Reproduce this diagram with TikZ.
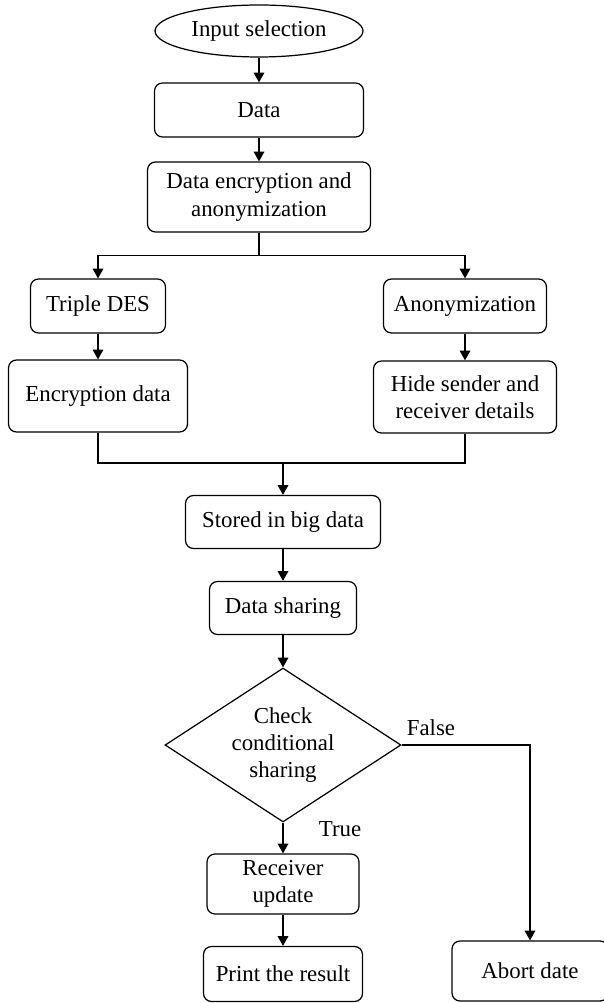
\documentclass[tikz,border=0pt]{standalone}
\usepackage{fontspec}
\setmainfont{Liberation Serif}
\usetikzlibrary{shapes.geometric,arrows.meta}

\begin{document}
\begin{tikzpicture}[x=0.02cm,y=-0.02cm,font=\fontsize{13}{15.5}\selectfont,line width=0.7pt,
  box/.style={draw,rounded corners=4.5pt,align=center,inner sep=0pt},
  arr/.style={-{Triangle[length=5.5pt,width=6pt]}}]
\clip (0,0) rectangle (604,1003);
\node[draw,ellipse,minimum width=4.16cm,minimum height=1.04cm,inner sep=0pt] (inp) at (259,31) {Input selection};
\node[box,minimum width=4.18cm,minimum height=1.08cm] (data) at (259,110) {Data};
\node[box,minimum width=4.46cm,minimum height=1.40cm] (enc) at (259,197) {Data encryption and\\anonymization};
\node[box,minimum width=2.70cm,minimum height=1.08cm] (tdes) at (98,306) {Triple DES};
\node[box,minimum width=3.26cm,minimum height=1.08cm] (anon) at (465,306) {Anonymization};
\node[box,minimum width=3.58cm,minimum height=1.44cm] (encd) at (98,396) {Encryption data};
\node[box,minimum width=3.66cm,minimum height=1.44cm] (hide) at (465,397) {Hide sender and\\receiver details};
\coordinate (join) at (283,463);
\node[box,minimum width=3.90cm,minimum height=1.06cm] (store) at (283,522) {Stored in big data};
\node[box,minimum width=2.94cm,minimum height=1.06cm] (share) at (283,608) {Data sharing};
\node[draw,diamond,aspect=1.53,minimum width=4.72cm,minimum height=3.08cm,inner sep=0pt,align=center] (check) at (283,745) {Check\\conditional\\sharing};
\node[box,minimum width=3.04cm,minimum height=1.20cm] (recv) at (283,884) {Receiver\\update};
\node[box,minimum width=3.18cm,minimum height=1.10cm] (print) at (283,974) {Print the result};
\node[box,minimum width=3.12cm,minimum height=1.20cm] (abort) at (530,971) {Abort date};
\node (lfalse) at (431,728) {False};
\node (ltrue) at (340,829) {True};
\draw[arr] (inp) -- (data);
\draw[arr] (data) -- (enc);
\draw[arr] (enc.south) -- ++(0,23) -| (tdes.north);
\draw[arr] (enc.south) -- ++(0,23) -| (anon.north);
\draw[arr] (tdes) -- (encd);
\draw[arr] (anon) -- (hide);
\draw (encd.south) |- (join) -| (hide.south);
\draw[arr] (join) -- (store);
\draw[arr] (store) -- (share);
\draw[arr] (share) -- (check);
\draw[arr] (check) -- (recv);
\draw[arr] (recv) -- (print);
\draw[arr] (check.east) -| (abort.north);
\end{tikzpicture}
\end{document}
